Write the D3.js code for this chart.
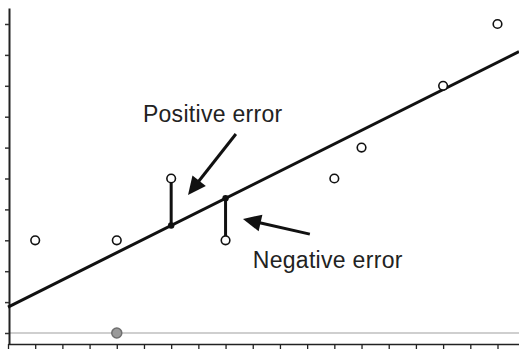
<!DOCTYPE html>
<html>
<head>
<meta charset="utf-8">
<script src="https://cdn.jsdelivr.net/npm/d3@7"></script>
<style>
  html, body { margin: 0; padding: 0; background: #fff; }
  svg { display: block; }
  text { font-family: "Liberation Sans", Arial, sans-serif; }
</style>
</head>
<body>
<div class="chart"></div>
<script>
// observed points
const xs = [1, 4, 6, 8, 12, 13, 16, 18];
const ys = [3, 3, 5, 3, 5, 6, 8, 10];
// the grey point sitting on the baseline
const outlierX = [4];
const outlierY = [0];
// fitted line
const fitIntercept = 0.84;
const fitSlope = 0.44;
// points whose residual is marked
const errorXs = [6, 8];
const labels = ["Positive error", "Negative error"];

const W = 519, H = 349;

const svg = d3.select(".chart").append("svg")
  .attr("width", W).attr("height", H);

let x = d3.scaleLinear().domain([0, 18]).range([8, 497.5]);
let y = d3.scaleLinear().domain([0, 10]).range([333, 24]);
const fit = v => fitIntercept + fitSlope * v;

// axis scales: same mapping, longer domain so the lines run edge to edge
const xAxisScale = x.copy().domain([0, x.invert(W)]).range([8, W]);
const yAxisScale = y.copy().domain([y.invert(344), y.invert(8)]).range([344, 8]);

// grey baseline at y = 0
svg.append("line")
  .attr("x1", x(0) + 2).attr("x2", W)
  .attr("y1", y(0)).attr("y2", y(0))
  .attr("stroke", "#cfcfcf").attr("stroke-width", 2);

// axes
svg.append("g")
  .attr("transform", "translate(0,344)")
  .call(d3.axisBottom(xAxisScale).tickValues(d3.range(0, 19)).tickSize(5).tickSizeOuter(0).tickFormat(""))
  .call(g => g.selectAll("line,path").attr("stroke", "#222").attr("stroke-width", 1.3));
svg.append("g")
  .attr("transform", "translate(9,0)")
  .call(d3.axisLeft(yAxisScale).tickValues(d3.range(0, 11)).tickSize(4).tickSizeOuter(0).tickFormat(""))
  .call(g => g.select(".domain").attr("stroke", "#222").attr("stroke-width", 2))
  .call(g => g.selectAll(".tick line").attr("stroke", "#333").attr("stroke-width", 1.5));

// fitted line
const xEnd = xAxisScale.invert(W);
svg.append("line")
  .attr("x1", x(0)).attr("y1", y(fit(0)))
  .attr("x2", x(xEnd)).attr("y2", y(fit(xEnd)))
  .attr("stroke", "#111").attr("stroke-width", 3);

// residual segments
const errPts = errorXs.map(v => ({x: v, y: ys[xs.indexOf(v)]}));
svg.selectAll(".err").data(errPts).enter().append("line")
  .attr("x1", d => x(d.x)).attr("x2", d => x(d.x))
  .attr("y1", d => y(d.y)).attr("y2", d => y(fit(d.x)))
  .attr("stroke", "#111").attr("stroke-width", 3);
svg.selectAll(".foot").data(errPts).enter().append("circle")
  .attr("cx", d => x(d.x)).attr("cy", d => y(fit(d.x)))
  .attr("r", 3.2).attr("fill", "#111");

// open points
svg.selectAll(".pt").data(xs.map((v, i) => ({x: v, y: ys[i]}))).enter().append("circle")
  .attr("cx", d => x(d.x)).attr("cy", d => y(d.y))
  .attr("r", 4.3).attr("fill", "#fff")
  .attr("stroke", "#111").attr("stroke-width", 1.6);

// grey point
svg.selectAll(".out").data(outlierX.map((v, i) => ({x: v, y: outlierY[i]}))).enter().append("circle")
  .attr("cx", d => x(d.x)).attr("cy", d => y(d.y))
  .attr("r", 5).attr("fill", "#9a9a9a")
  .attr("stroke", "#6f6f6f").attr("stroke-width", 1.5);

// annotations: arrows in data units
function arrow(t0, t1) {
  const x0 = x(t0[0]), y0 = y(t0[1]), x1 = x(t1[0]), y1 = y(t1[1]);
  const a = Math.atan2(y1 - y0, x1 - x0), L = 18, hw = 8.5;
  const bx = x1 - L * Math.cos(a), by = y1 - L * Math.sin(a);
  svg.append("line")
    .attr("x1", x0).attr("y1", y0).attr("x2", bx + 2 * Math.cos(a)).attr("y2", by + 2 * Math.sin(a))
    .attr("stroke", "#111").attr("stroke-width", 3);
  svg.append("path")
    .attr("d", `M${x1},${y1}L${bx + hw * Math.sin(a)},${by - hw * Math.cos(a)}L${bx - hw * Math.sin(a)},${by + hw * Math.cos(a)}Z`)
    .attr("fill", "#111");
}
arrow([8.38, 6.44], [6.62, 4.47]);
arrow([11.1, 3.2], [8.64, 3.69]);

svg.append("text").attr("x", x(4.96)).attr("y", y(6.83))
  .attr("font-size", 23).attr("letter-spacing", 0.3).attr("fill", "#222").text(labels[0]);
svg.append("text").attr("x", x(9.0)).attr("y", y(2.1))
  .attr("font-size", 23).attr("letter-spacing", 0.3).attr("fill", "#222").text(labels[1]);
</script>
</body>
</html>
